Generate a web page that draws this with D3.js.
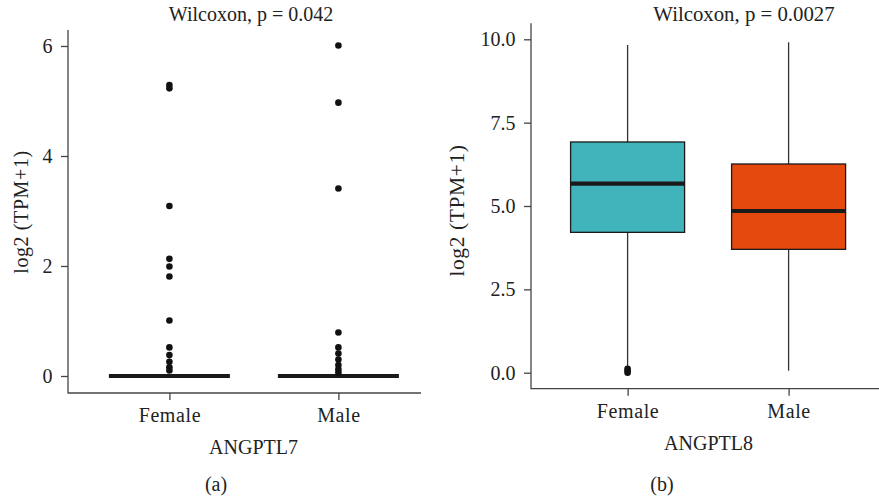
<!DOCTYPE html>
<html><head><meta charset="utf-8">
<script src="https://cdn.jsdelivr.net/npm/d3@7"></script>
<style>body{margin:0;background:#fff}svg{display:block}text{font-family:"Liberation Serif","Times New Roman",serif;fill:#222}</style>
</head><body><svg id="c" width="879" height="500"></svg>
<script>
// ---------- data ----------
const categories = ["Female", "Male"];
// Panel (a) ANGPTL7
const a_q1 = [0, 0], a_median = [0, 0], a_q3 = [0, 0], a_low = [0, 0], a_high = [0, 0];
const a_outFemale = [5.29, 5.23, 3.09, 2.13, 1.99, 1.81, 1.01, 0.52, 0.38, 0.26, 0.16, 0.1];
const a_outMale = [6.01, 4.97, 3.41, 0.79, 0.52, 0.41, 0.30, 0.20, 0.12, 0.06];
const a_ticks = [0, 2, 4, 6];
// Panel (b) ANGPTL8
const b_q1 = [4.21, 3.70], b_median = [5.67, 4.85], b_q3 = [6.92, 6.26];
const b_low = [0.16, 0.06], b_high = [9.83, 9.91];
const b_outFemale = [0.12, 0.06, 0.0];
const b_outMale = [];
const b_ticks = [0, 2.5, 5, 7.5, 10];
const fills = ["#41B3BA", "#E5490E"];

// ---------- drawing ----------
const svg = d3.select("#c");
const FONT = '"Liberation Serif", "Times New Roman", serif';

function panel(o) {
  const g = svg.append("g");
  const y = d3.scaleLinear().domain(o.ydom).range([o.bottom, o.top]);
  const x = d3.scaleLinear().domain([0.4, 2.6]).range([o.left, o.left + 2.2 * o.step]);
  const xc = i => x(i + 1);
  const bw = o.boxW;
  categories.forEach((c, i) => {
    const cx = xc(i);
    g.append("line").attr("x1", cx).attr("x2", cx).attr("y1", y(o.q3[i])).attr("y2", y(o.high[i]))
      .attr("stroke", "#333").attr("stroke-width", 1.3);
    g.append("line").attr("x1", cx).attr("x2", cx).attr("y1", y(o.q1[i])).attr("y2", y(o.low[i]))
      .attr("stroke", "#333").attr("stroke-width", 1.3);
    g.append("rect").attr("x", cx - bw / 2).attr("width", bw)
      .attr("y", y(o.q3[i])).attr("height", Math.max(0, y(o.q1[i]) - y(o.q3[i])))
      .attr("fill", o.fill ? o.fill[i] : "none").attr("stroke", "#1a1a1a").attr("stroke-width", 1.3);
    g.append("line").attr("x1", cx - bw / 2).attr("x2", cx + bw / 2)
      .attr("y1", y(o.median[i])).attr("y2", y(o.median[i]))
      .attr("stroke", "#1a1a1a").attr("stroke-width", 4.2);
    g.selectAll(null).data(o.outs[i]).enter().append("circle")
      .attr("cx", cx).attr("cy", d => y(d)).attr("r", 3.3).attr("fill", "#111");
  });
  // y axis
  const ya = d3.axisLeft(y).tickValues(o.ticks).tickFormat(o.fmt).tickSize(7).tickPadding(8.5);
  const yg = g.append("g").attr("transform", `translate(${o.left},0)`).call(ya);
  yg.select(".domain").remove();
  g.append("line").attr("x1", o.left).attr("x2", o.left).attr("y1", o.top - 16).attr("y2", o.axisY + 0.6)
    .attr("stroke", "#444").attr("stroke-width", 1.3);
  // x axis
  const xa = d3.axisBottom(x).tickValues([1, 2]).tickFormat(d => categories[d - 1]).tickSize(7).tickPadding(o.xpad);
  const xg = g.append("g").attr("transform", `translate(0,${o.axisY})`).call(xa);
  xg.select(".domain").remove();
  g.append("line").attr("x1", o.left).attr("x2", o.xEnd).attr("y1", o.axisY).attr("y2", o.axisY)
    .attr("stroke", "#444").attr("stroke-width", 1.3);
  [yg, xg].forEach(ax => {
    ax.selectAll(".tick line").attr("stroke", "#444").attr("stroke-width", 1.3);
    ax.selectAll(".tick text").attr("font-family", FONT).attr("font-size", 20).attr("fill", "#222");
  });
  xg.selectAll(".tick text").attr("letter-spacing", 0.6);
  // texts
  g.append("text").attr("x", o.titleX).attr("y", 21).attr("text-anchor", "middle").attr("font-size", o.titleFs).text(o.title);
  g.append("text").attr("transform", `translate(${o.ylabX},${o.ylabY}) rotate(-90)`)
    .attr("text-anchor", "middle").attr("font-size", o.ylabFs).attr("letter-spacing", 0.6).text("log2 (TPM+1)");
  g.append("text").attr("x", o.xlabX).attr("y", o.xlabY).attr("text-anchor", "middle").attr("font-size", 20).text(o.gene);
  g.append("text").attr("x", o.tagX).attr("y", 491).attr("text-anchor", "middle").attr("font-size", 20).text(o.tag);
}

panel({
  ydom: [0, 6], top: 46, bottom: 376, left: 68, step: 169, xEnd: 421, axisY: 393, xpad: 7.5,
  q1: a_q1, median: a_median, q3: a_q3, low: a_low, high: a_high, outs: [a_outFemale, a_outMale],
  ticks: a_ticks, fmt: d3.format("d"), boxW: 121, fill: null,
  title: "Wilcoxon, p = 0.042", titleX: 251, titleFs: 20,
  ylabX: 28, ylabY: 212, ylabFs: 20,
  xlabX: 253.5, xlabY: 454, gene: "ANGPTL7", tag: "(a)", tagX: 216
});
panel({
  ydom: [0, 10], top: 39.3, bottom: 372.7, left: 531, step: 161, xEnd: 879, axisY: 388.7, xpad: 8.5,
  q1: b_q1, median: b_median, q3: b_q3, low: b_low, high: b_high, outs: [b_outFemale, b_outMale],
  ticks: b_ticks, fmt: d3.format(".1f"), boxW: 114, fill: fills,
  title: "Wilcoxon, p = 0.0027", titleX: 744, titleFs: 20.8,
  ylabX: 464, ylabY: 210.5, ylabFs: 21.5,
  xlabX: 708.5, xlabY: 450, gene: "ANGPTL8", tag: "(b)", tagX: 662
});
</script></body></html>
